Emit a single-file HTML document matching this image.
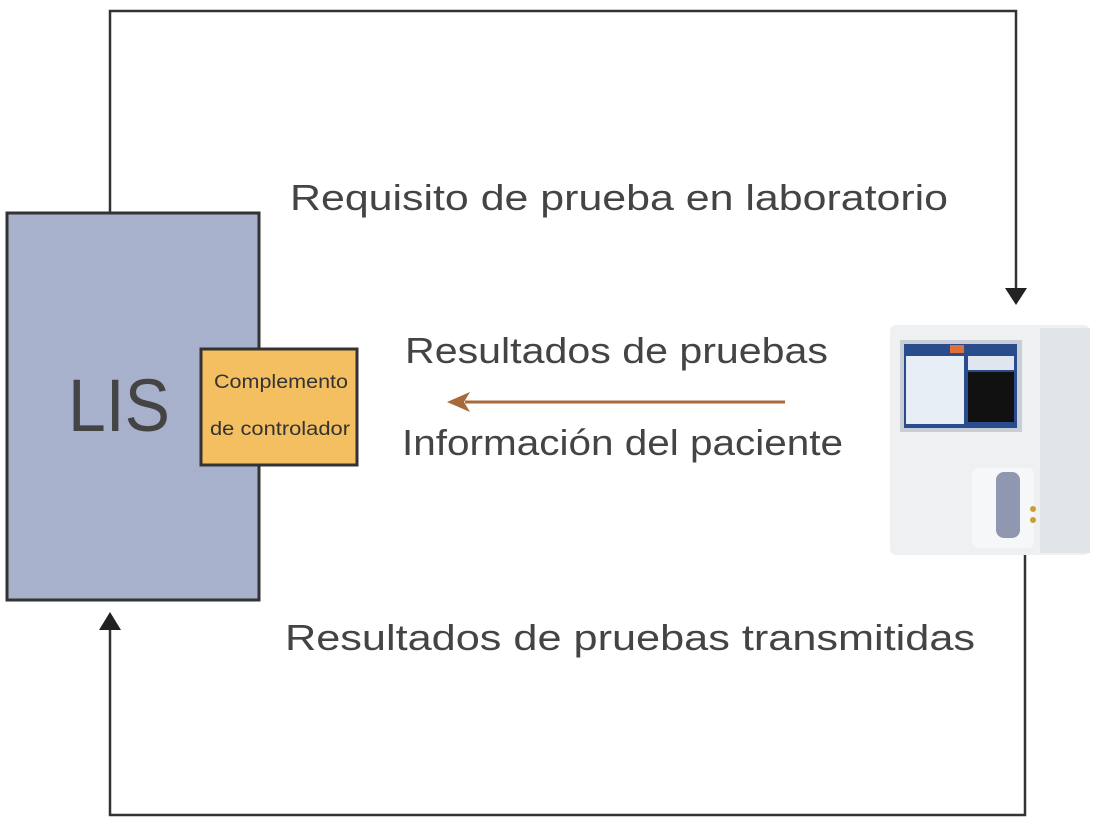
<!DOCTYPE html>
<html><head><meta charset="utf-8"><style>
html,body{margin:0;padding:0;background:#fff;width:1104px;height:826px;overflow:hidden}
</style></head><body>
<svg width="1104" height="826" viewBox="0 0 1104 826" xmlns="http://www.w3.org/2000/svg" font-family="Liberation Sans, sans-serif">
<g stroke="#333" stroke-width="2.5" fill="none">
<polyline points="110,212 110,11 1016,11 1016,290"/>
<polyline points="1025,555 1025,815 110,815 110,628"/>
</g>
<polygon points="1005,288 1027,288 1016,305" fill="#222"/>
<polygon points="99,630 121,630 110,612" fill="#222"/>
<rect x="7" y="213" width="252" height="387" fill="#a7b1cb" stroke="#333" stroke-width="3"/>
<text x="68" y="431" font-size="74" fill="#444" textLength="102" lengthAdjust="spacingAndGlyphs">LIS</text>
<rect x="201" y="349" width="156" height="116" fill="#f3bf60" stroke="#333" stroke-width="3"/>
<text x="214" y="388" font-size="19" fill="#333" textLength="134" lengthAdjust="spacingAndGlyphs">Complemento</text>
<text x="210" y="435" font-size="19" fill="#333" textLength="140" lengthAdjust="spacingAndGlyphs">de controlador</text>
<text x="290" y="210" font-size="36" fill="#444" textLength="658" lengthAdjust="spacingAndGlyphs">Requisito de prueba en laboratorio</text>
<text x="405" y="363" font-size="36" fill="#444" textLength="423" lengthAdjust="spacingAndGlyphs">Resultados de pruebas</text>
<text x="402" y="455" font-size="36" fill="#444" textLength="441" lengthAdjust="spacingAndGlyphs">Información del paciente</text>
<text x="285" y="650" font-size="36" fill="#444" textLength="690" lengthAdjust="spacingAndGlyphs">Resultados de pruebas transmitidas</text>
<line x1="785" y1="402" x2="465" y2="402" stroke="#a86a3a" stroke-width="3"/>
<polygon points="447,402 470,392 464,402 470,412" fill="#a86a3a"/>
<!-- analyzer -->
<g>
<rect x="890" y="325" width="200" height="230" rx="6" fill="#eef0f2"/>
<rect x="1040" y="328" width="50" height="225" fill="#e2e5e8"/>
<rect x="900" y="340" width="122" height="92" fill="#c9ced6"/>
<rect x="904" y="344" width="113" height="84" fill="#2a4b8c"/>
<rect x="906" y="356" width="58" height="68" fill="#e8eef6"/>
<rect x="968" y="356" width="46" height="14" fill="#dfe6f0"/>
<rect x="968" y="372" width="46" height="50" fill="#111"/>
<rect x="950" y="345" width="14" height="8" fill="#e0703a"/>
<rect x="1008" y="425" width="0" height="0"/>
<rect x="972" y="468" width="62" height="80" rx="6" fill="#f6f7f8"/>
<rect x="996" y="472" width="24" height="66" rx="8" fill="#8f98b0"/>
<circle cx="1033" cy="509" r="3" fill="#c8a030"/>
<circle cx="1033" cy="520" r="3" fill="#c8a030"/>
</g>
</svg>
</body></html>
